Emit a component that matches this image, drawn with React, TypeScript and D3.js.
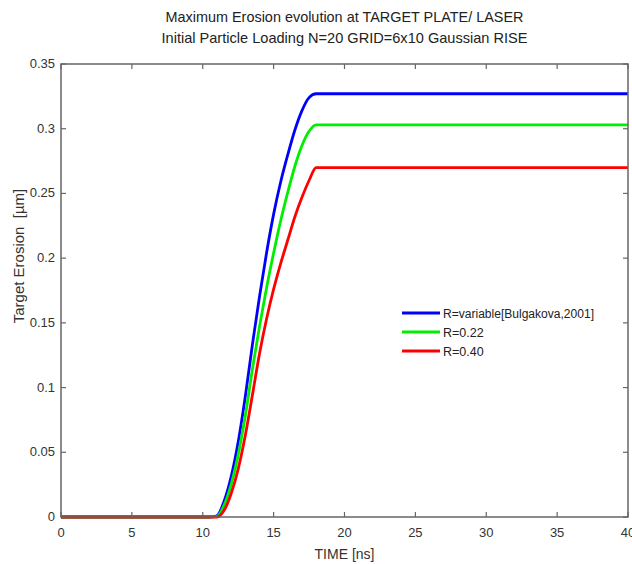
import React from 'react';
import * as d3 from 'd3';

// time points (ns) and erosion values (µm)
const times = [0, 10.5, 11, 11.5, 12, 12.5, 13, 13.5, 14, 14.5, 15, 15.5, 16, 16.5, 17, 17.5, 18, 40];
const blueValues = [0, 0, 0.001, 0.012, 0.031, 0.058, 0.093, 0.133, 0.17, 0.204, 0.234, 0.259, 0.28, 0.299, 0.314, 0.324, 0.327, 0.327];
const greenValues = [0, 0, 0.0005, 0.009, 0.025, 0.048, 0.078, 0.114, 0.147, 0.177, 0.204, 0.229, 0.251, 0.271, 0.287, 0.298, 0.303, 0.303];
const redValues = [0, 0, 0, 0.005, 0.018, 0.037, 0.063, 0.094, 0.126, 0.153, 0.176, 0.196, 0.214, 0.232, 0.247, 0.26, 0.27, 0.27];

const seriesNames = ['R=variable[Bulgakova,2001]', 'R=0.22', 'R=0.40'];
const seriesColors = ['#0000ff', '#00ee00', '#ff0000'];

const xTicks = [0, 5, 10, 15, 20, 25, 30, 35, 40];
const yTicks = [0, 0.05, 0.1, 0.15, 0.2, 0.25, 0.3, 0.35];

const titleLines = [
  'Maximum Erosion evolution at TARGET PLATE/ LASER',
  'Initial Particle Loading N=20 GRID=6x10 Gaussian RISE',
];

const width = 632;
const height = 564;
const margin = { top: 64, right: 4, bottom: 47, left: 61 };

export default function App() {
  const innerW = width - margin.left - margin.right;
  const innerH = height - margin.top - margin.bottom;

  const x = d3.scaleLinear().domain([0, 40]).range([0, innerW]);
  const y = d3.scaleLinear().domain([0, 0.35]).range([innerH, 0]);

  const line = d3
    .line<number>()
    .x((_, i) => x(times[i]))
    .y((d) => y(d))
    .curve(d3.curveMonotoneX);

  const allSeries = [blueValues, greenValues, redValues];
  const font = 'Arial, "Liberation Sans", sans-serif';
  const axisColor = '#666';
  const tickLen = 5;

  return (
    <div style={{ position: 'fixed', left: 0, top: 0 }}>
      <svg width={width} height={height} style={{ display: 'block', background: '#fff' }} fontFamily={font}>
        {/* title */}
        {titleLines.map((t, i) => (
          <text
            key={t}
            x={margin.left + innerW / 2}
            y={22 + i * 21}
            textAnchor="middle"
            fontSize={15}
            fill="#222"
            textLength={i === 0 ? 358 : 366}
            lengthAdjust="spacingAndGlyphs"
          >
            {t}
          </text>
        ))}

        <g transform={`translate(${margin.left},${margin.top})`}>
          {/* series */}
          {allSeries.map((vals, i) => (
            <path
              key={seriesNames[i]}
              d={line(vals) || ''}
              fill="none"
              stroke={seriesColors[i]}
              strokeWidth={2.8}
              strokeLinejoin="round"
            />
          ))}

          {/* frame */}
          <rect x={0} y={0} width={innerW} height={innerH} fill="none" stroke={axisColor} strokeWidth={1.5} />

          {/* x ticks, bottom and top */}
          {xTicks.map((t) => (
            <g key={`x${t}`}>
              <line x1={x(t)} x2={x(t)} y1={innerH} y2={innerH - tickLen} stroke={axisColor} strokeWidth={1.2} />
              <line x1={x(t)} x2={x(t)} y1={0} y2={tickLen} stroke={axisColor} strokeWidth={1.2} />
              <text x={x(t)} y={innerH + 20} textAnchor="middle" fontSize={13} fill="#333">
                {t}
              </text>
            </g>
          ))}

          {/* y ticks, left and right */}
          {yTicks.map((t) => (
            <g key={`y${t}`}>
              <line x1={0} x2={tickLen} y1={y(t)} y2={y(t)} stroke={axisColor} strokeWidth={1.2} />
              <line x1={innerW} x2={innerW - tickLen} y1={y(t)} y2={y(t)} stroke={axisColor} strokeWidth={1.2} />
              <text x={-6} y={y(t) + 4} textAnchor="end" fontSize={13} fill="#333">
                {t}
              </text>
            </g>
          ))}

          {/* legend */}
          {seriesNames.map((name, i) => (
            <g key={name} transform={`translate(341,${249 + i * 19})`}>
              <line x1={0} x2={38} y1={0} y2={0} stroke={seriesColors[i]} strokeWidth={2.8} />
              <text x={41} y={4.5} fontSize={12.5} fill="#222" {...(i === 0 ? { textLength: 151, lengthAdjust: 'spacingAndGlyphs' } : {})}>
                {name}
              </text>
            </g>
          ))}
        </g>

        {/* axis labels */}
        <text
          transform={`translate(24,256) rotate(-90)`}
          textAnchor="middle"
          fontSize={15}
          fill="#333"
          style={{ whiteSpace: 'pre' }}
        >
          {'Target Erosion  [µm]'}
        </text>
        <text x={margin.left + innerW / 2} y={559} textAnchor="middle" fontSize={14} fill="#333">
          TIME [ns]
        </text>
      </svg>
    </div>
  );
}
